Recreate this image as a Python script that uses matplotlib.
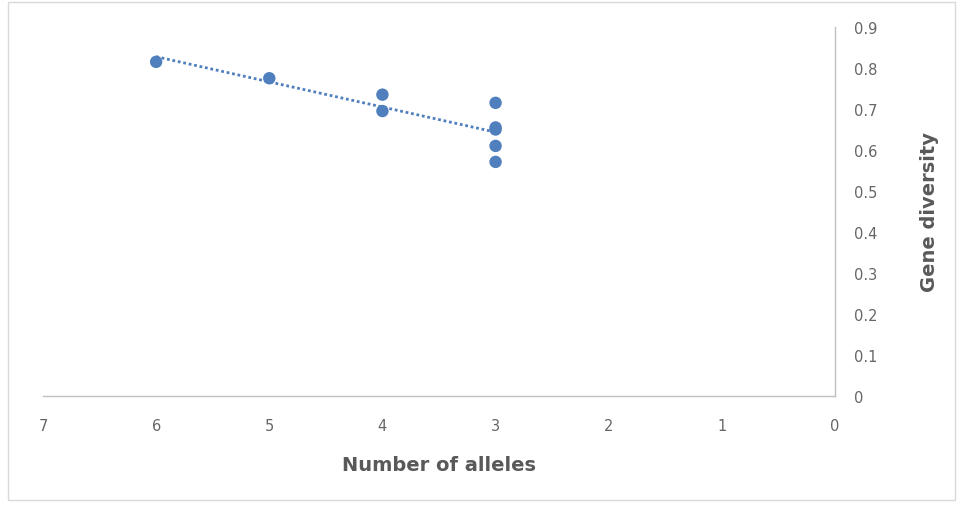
import numpy as np
import matplotlib.pyplot as plt
from matplotlib.patches import Rectangle

# number of alleles vs gene diversity per locus
alleles = [6, 5, 4, 4, 3, 3, 3, 3, 3]
diversity = [0.815, 0.775, 0.735, 0.695, 0.715, 0.655, 0.65, 0.61, 0.571]
xticks = [7, 6, 5, 4, 3, 2, 1, 0]
yticks = [0, 0.1, 0.2, 0.3, 0.4, 0.5, 0.6, 0.7, 0.8, 0.9]

blue = '#4f7fbc'
grey = '#595959'

fig = plt.figure(figsize=(9.61, 5.06), dpi=100)
ax = fig.add_axes([43/961, 1-397/506, (835-43)/961, (397-28)/506])

ax.scatter(alleles, diversity, s=80, color=blue, zorder=3, edgecolors='none')

# linear trendline
k, b = np.polyfit(alleles, diversity, 1)
xs = np.array([max(alleles), min(alleles)])
ax.plot(xs, k*xs + b, color=blue, lw=2, ls=(0, (1, 1)), zorder=2)

ax.set_xlim(7, 0)
ax.set_ylim(0, 0.9)
ax.set_xticks(xticks)
ax.set_yticks(yticks)
ax.set_yticklabels([('%g' % v) for v in yticks])

ax.yaxis.tick_right()
ax.yaxis.set_label_position('right')
for s in ['top', 'left']:
    ax.spines[s].set_visible(False)
for s in ['bottom', 'right']:
    ax.spines[s].set_color('#bfbfbf')
    ax.spines[s].set_linewidth(1)
ax.tick_params(length=0, labelsize=10.5, labelcolor='#666666')
ax.tick_params(axis='x', pad=16)
ax.tick_params(axis='y', pad=14)

ax.set_xlabel('Number of alleles', fontsize=14, fontweight='bold', color=grey, labelpad=16)
ax.set_ylabel('Gene diversity', fontsize=14, fontweight='bold', color=grey, labelpad=30)

fig.patches.append(Rectangle((8/961, 0.01), 0.985, 0.985, transform=fig.transFigure,
                             fill=False, edgecolor='#d9d9d9', lw=1))

fig.savefig('out.png', dpi=100)
